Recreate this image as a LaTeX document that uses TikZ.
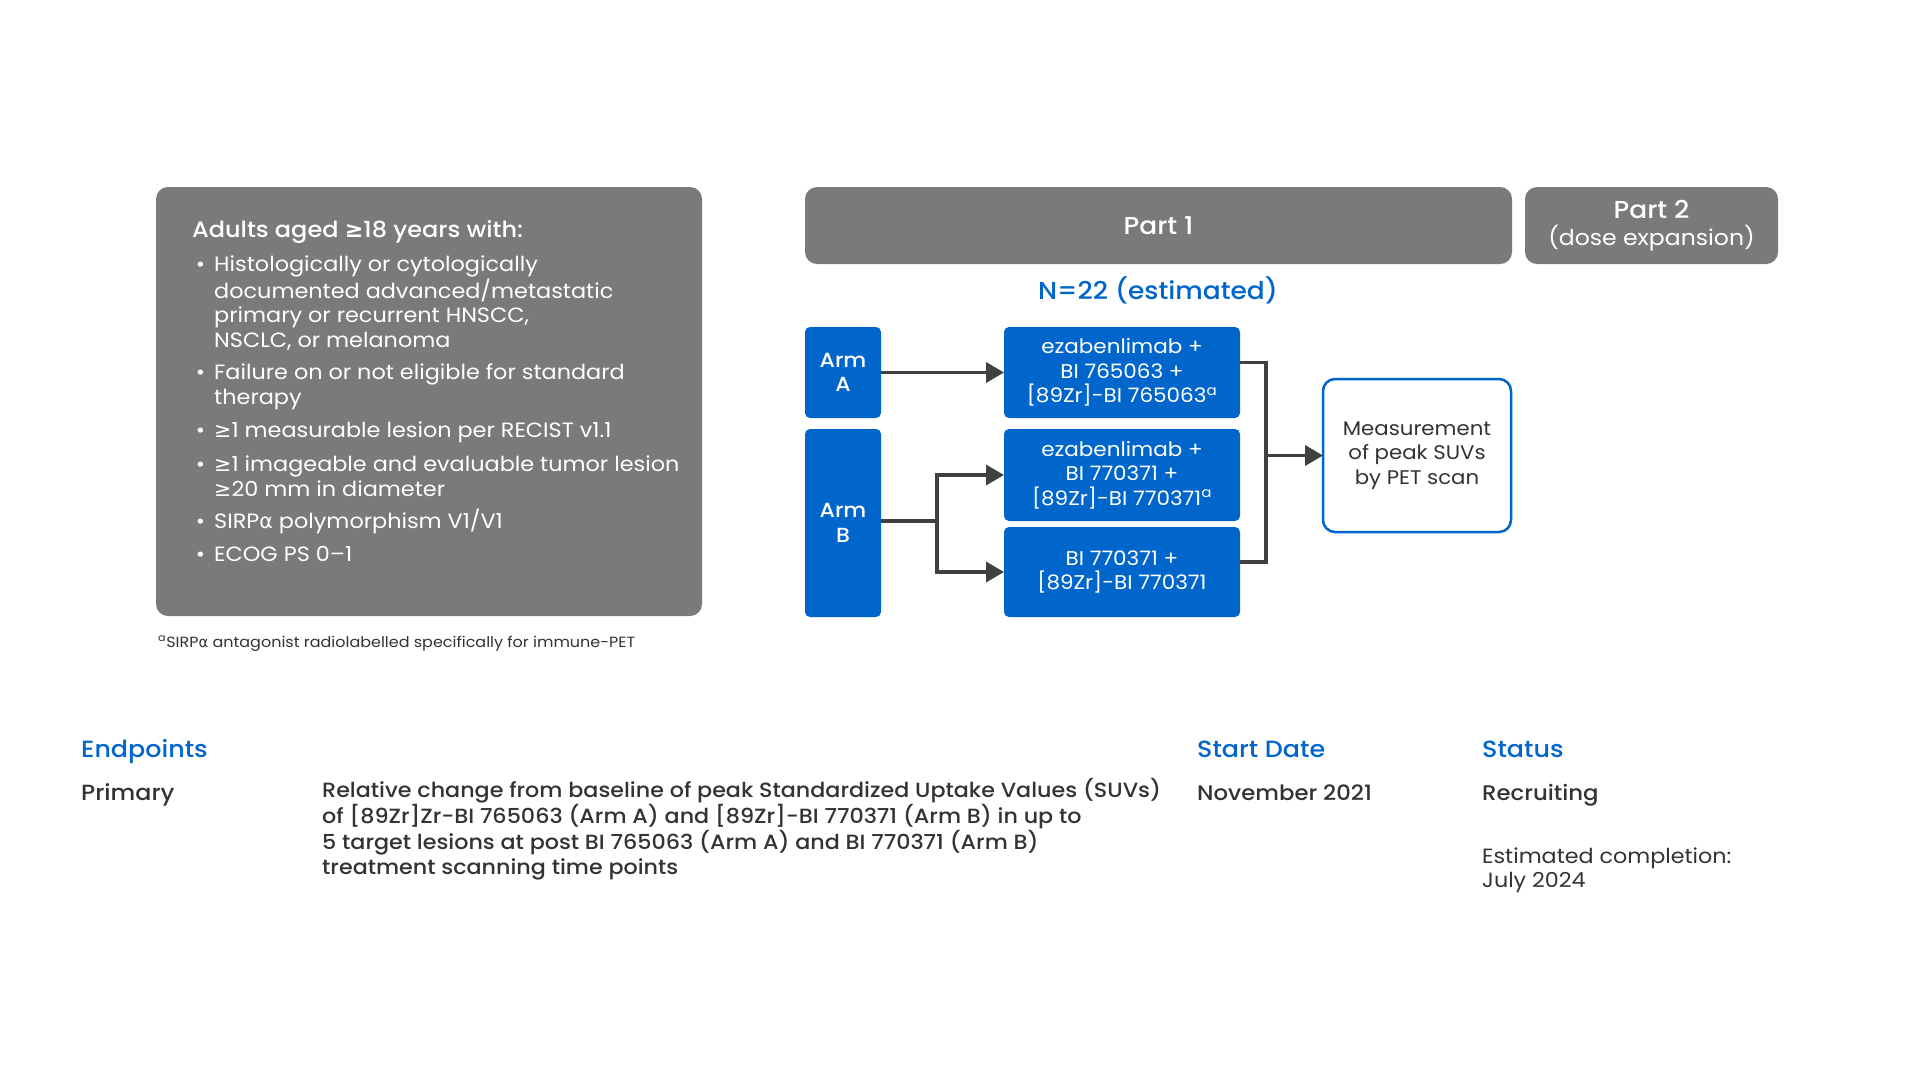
\documentclass[tikz,border=0pt]{standalone}
\usepackage{fontspec}
\setmainfont{Poppins}[BoldFont={Poppins Medium}, FakeStretch=1.08]
\newfontfamily\symfont{DejaVu Sans}
\usepackage{xcolor}
\usepackage{tikz}
\usetikzlibrary{arrows.meta,positioning,calc}
\definecolor{panelgrey}{HTML}{7A7A7C}
\definecolor{studyblue}{HTML}{0066CC}
\definecolor{arrowgrey}{HTML}{404040}
\definecolor{textdark}{HTML}{333333}
\newcommand{\atleast}{{\symfont ≥}}
\newcommand{\salpha}{{\symfont α}}
\newcommand{\bul}{\llap{\textbullet\hspace{9pt}}}

\begin{document}
\begin{tikzpicture}[x=1pt, y=-1pt,
    panel/.style={fill=panelgrey, rounded corners=12pt, inner sep=0pt, outer sep=0pt},
    partbar/.style={fill=panelgrey, rounded corners=12pt, text=white, align=center,
                    inner sep=0pt, outer sep=0pt, font=\fontsize{21.8}{27}\selectfont},
    arm/.style={fill=studyblue, rounded corners=5pt, text=white, align=center,
                inner sep=0pt, outer sep=0pt, font=\bfseries\fontsize{20.4}{24.5}\selectfont},
    drug/.style={fill=studyblue, rounded corners=5pt, text=white, align=center,
                 inner sep=0pt, outer sep=0pt, font=\fontsize{19.9}{24.5}\selectfont},
    resultbox/.style={draw=studyblue, line width=2.5pt, fill=white, rounded corners=12pt,
                      text=textdark, align=center, inner sep=0pt, outer sep=0pt,
                      font=\fontsize{19.7}{24.5}\selectfont},
    critline/.style={anchor=base west, text=white, align=left, inner sep=0pt,
                     font=\fontsize{20.7}{24.5}\selectfont},
    head/.style={anchor=base west, text=studyblue, inner sep=0pt,
                 font=\bfseries\fontsize{23.5}{25}\selectfont},
    infotext/.style={anchor=base west, text=textdark, align=left, inner sep=0pt,
                     font=\bfseries\fontsize{20.6}{24.6}\selectfont},
    link/.style={line width=3.5pt, draw=arrowgrey},
    flow/.style={link, -{Triangle[length=18pt,width=20pt]}}
]
    \fill[white] (0,0) rectangle (1921,1081);
    \useasboundingbox (0,0) rectangle (1921,1081);

    % Eligibility panel
    \node[panel, minimum width=546pt, minimum height=429pt] (critpanel) at (429,401.5) {};
    \node[critline, font=\bfseries\fontsize{22.2}{25}\selectfont] (crithead) at (192,237) {Adults aged \atleast18 years with:};
    \node[critline] (crit1) at (214,347) {\bul Histologically or cytologically\\documented advanced/metastatic\\primary or recurrent HNSCC,\\NSCLC, or melanoma};
    \node[critline] (crit2) at (214,404) {\bul Failure on or not eligible for standard\\therapy};
    \node[critline] (crit3) at (214,437) {\bul \atleast1 measurable lesion per RECIST v1.1};
    \node[critline] (crit4) at (214,496) {\bul \atleast1 imageable and evaluable tumor lesion\\\atleast20 mm in diameter};
    \node[critline] (crit5) at (214,528) {\bul SIRP\salpha\ polymorphism V1/V1};
    \node[critline] (crit6) at (214,561) {\bul ECOG PS 0–1};

    % Footnote
    \node[critline, text=textdark, font=\fontsize{14.8}{16}\selectfont] (fnote) at (158,647) {\textsuperscript{a}SIRP\salpha\ antagonist radiolabelled specifically for immune-PET};

    % Parts
    \node[partbar, font=\bfseries\fontsize{24.5}{27}\selectfont, minimum width=707pt, minimum height=77pt] (part1) at (1158.5,225.5) {Part 1};
    \node[partbar, minimum width=253pt, minimum height=77pt] (part2) at (1651.5,225.5) {{\bfseries\fontsize{24.5}{27}\selectfont Part 2}\\(dose expansion)};
    \node[text=studyblue, font=\bfseries\fontsize{24.5}{27}\selectfont] (nest) at (1158,290) {N=22 (estimated)};

    % Arms
    \node[arm, minimum width=76pt, minimum height=91pt] (armA) at (843,372.5) {Arm\\A};
    \node[arm, minimum width=76pt, minimum height=188pt] (armB) at (843,523) {Arm\\B};

    % Treatments
    \node[drug, minimum width=236pt, minimum height=91pt] (drugA) at (1122,372.5) {ezabenlimab +\\BI 765063 +\\{}[89Zr]-BI 765063\textsuperscript{a}};
    \node[drug, minimum width=236pt, minimum height=92pt] (drugB1) at (1122,475) {ezabenlimab +\\BI 770371 +\\{}[89Zr]-BI 770371\textsuperscript{a}};
    \node[drug, minimum width=236pt, minimum height=90pt] (drugB2) at (1122,572) {BI 770371 +\\{}[89Zr]-BI 770371};

    % Readout
    \node[resultbox, minimum width=188pt, minimum height=153pt] (suv) at (1417,455.5) {Measurement\\of peak SUVs\\by PET scan};

    % Connections
    \coordinate (split) at (937,521);
    \coordinate (join) at (1266,455.5);
    \draw[flow] (armA) -- (drugA);
    \draw[link] ([yshift=2pt]armB.east) -- (split);
    \draw[flow] (split) |- (drugB1.west);
    \draw[flow] (split) |- (drugB2.west);
    \draw[link] ([yshift=10pt]drugA.east) -| (join) |- ([yshift=10pt]drugB2.east);
    \draw[flow] (join) -- (suv.west);

    % Study details
    \node[head] (endpts) at (81,757) {Endpoints};
    \node[head] (startdate) at (1197,757) {Start Date};
    \node[head] (status) at (1482,757) {Status};
    \node[infotext, font=\bfseries\fontsize{22}{24.6}\selectfont] (primary) at (81,800) {Primary};
    \node[infotext] (primdesc) at (322,874) {Relative change from baseline of peak Standardized Uptake Values (SUVs)\\of [89Zr]Zr-BI 765063 (Arm A) and [89Zr]-BI 770371 (Arm B) in up to\\5 target lesions at post BI 765063 (Arm A) and BI 770371 (Arm B)\\treatment scanning time points};
    \node[infotext, font=\bfseries\fontsize{21.1}{24.6}\selectfont] (startval) at (1197,800) {November 2021};
    \node[infotext, font=\bfseries\fontsize{21.1}{24.6}\selectfont] (statusval) at (1482,800) {Recruiting};
    \node[infotext, font=\fontsize{20.6}{24}\selectfont] (completion) at (1482,887) {Estimated completion:\\July 2024};
\end{tikzpicture}
\end{document}
